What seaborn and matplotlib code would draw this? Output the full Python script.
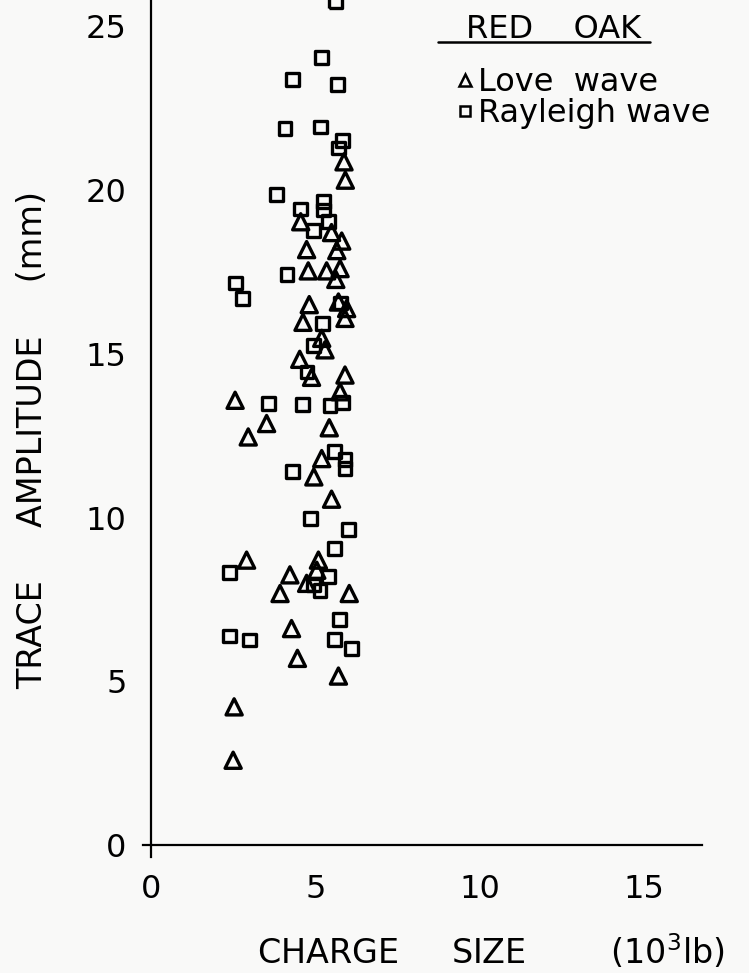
import numpy as np
import pandas as pd
import matplotlib
matplotlib.use("Agg")
import matplotlib.pyplot as plt
import seaborn as sns
from matplotlib.lines import Line2D

# ---- data ----
love_x = [5.87, 5.91, 4.55, 5.49, 5.80, 4.73, 5.65, 4.78, 5.34, 5.75, 5.62, 4.81,
          5.70, 5.95, 5.90, 4.62, 5.19, 5.29, 4.52, 4.88, 5.90, 5.75, 2.55, 3.51,
          2.95, 5.42, 5.19, 4.95, 5.49, 2.90, 5.09, 4.22, 4.73, 5.04, 3.92, 6.03,
          4.27, 4.45, 5.70, 2.52, 2.49]
love_y = [20.86, 20.30, 19.03, 18.70, 18.44, 18.18, 18.15, 17.53, 17.53, 17.60, 17.27, 16.50,
          16.58, 16.38, 16.08, 15.96, 15.47, 15.12, 14.83, 14.28, 14.35, 13.84, 13.58, 12.87,
          12.46, 12.74, 11.80, 11.24, 10.56, 8.70, 8.70, 8.25, 7.99, 8.39, 7.68, 7.68,
          6.61, 5.70, 5.16, 4.22, 2.59]

rayleigh_x = [5.62, 5.19, 4.30, 5.66, 4.07, 5.16, 5.82, 5.71, 3.80, 5.24, 5.24, 4.54,
              5.39, 4.93, 4.13, 2.57, 2.77, 5.77, 5.22, 4.93, 4.74, 3.56, 4.61, 5.44,
              5.83, 5.59, 5.90, 5.90, 4.30, 4.86, 6.00, 5.59, 2.37, 5.39, 4.93, 5.14,
              5.73, 2.39, 3.00, 5.59, 6.11]
rayleigh_y = [25.76, 24.04, 23.37, 23.22, 21.88, 21.92, 21.52, 21.28, 19.87, 19.66, 19.39, 19.42,
              19.03, 18.76, 17.42, 17.16, 16.69, 16.55, 15.93, 15.25, 14.44, 13.48, 13.46, 13.43,
              13.50, 12.01, 11.77, 11.50, 11.40, 9.97, 9.64, 9.06, 8.31, 8.19, 7.94, 7.78,
              6.89, 6.38, 6.26, 6.28, 6.00]

x_ticks = [0, 5, 10, 15]
y_ticks = [0, 5, 10, 15, 20, 25]
series_names = ["Love  wave", "Rayleigh wave"]
legend_title = "RED    OAK"
x_label = "CHARGE     SIZE        (10$^3$lb)"
y_label = "TRACE     AMPLITUDE     (mm)"

# ---- style ----
sns.set_theme(style="white")
plt.rcParams["font.family"] = ["DejaVu Sans"]
for key in ["text.color", "axes.labelcolor", "xtick.color", "ytick.color"]:
    plt.rcParams[key] = "black"
bg = "#f9f9f8"

fig = plt.figure(figsize=(7.49, 9.73), dpi=100, facecolor=bg)
ax = fig.add_axes([0.1913, 0.1197, 0.7466, 0.8803])
ax.set_facecolor(bg)

love = pd.DataFrame({"size": love_x, "amp": love_y})
ray = pd.DataFrame({"size": rayleigh_x, "amp": rayleigh_y})

sns.scatterplot(data=love, x="size", y="amp", marker="^", s=135,
                facecolor="none", edgecolor="black", linewidth=2.4,
                ax=ax, zorder=3, legend=False)
sns.scatterplot(data=ray, x="size", y="amp", marker="s", s=85,
                facecolor="none", edgecolor="black", linewidth=2.4,
                ax=ax, zorder=3, legend=False)

ax.set_xlim(-0.25, 16.8)
ax.set_ylim(-0.35, 25.8)

for side in ["top", "right"]:
    ax.spines[side].set_visible(False)
for side in ["left", "bottom"]:
    ax.spines[side].set_position(("data", 0))
    ax.spines[side].set_color("black")
    ax.spines[side].set_linewidth(1.6)
ax.spines["left"].set_bounds(-0.35, 25.8)
ax.spines["bottom"].set_bounds(-0.25, 16.8)

ax.set_xticks(x_ticks)
ax.set_yticks(y_ticks)
ax.set_xticklabels([str(t) for t in x_ticks])
ax.set_yticklabels([str(t) for t in y_ticks])
ax.tick_params(axis="both", direction="in", length=11, width=1.6,
               colors="black", labelsize=23)
ax.tick_params(axis="x", pad=21)
ax.tick_params(axis="y", pad=18)

ax.set_xlabel(x_label, fontsize=24)
ax.xaxis.set_label_coords(0.622, -0.088)
ax.set_ylabel(y_label, fontsize=24)
ax.yaxis.set_label_coords(-0.168, 0.486)

handles = [
    Line2D([], [], marker="^", linestyle="none", markersize=8, markeredgewidth=1.8,
           markerfacecolor="none", markeredgecolor="black"),
    Line2D([], [], marker="s", linestyle="none", markersize=7, markeredgewidth=1.8,
           markerfacecolor="none", markeredgecolor="black"),
]
leg = ax.legend(handles, series_names, loc="upper left",
                bbox_to_anchor=(0.561, 0.9218), frameon=False, fontsize=23,
                handlelength=0.5, handletextpad=0.15, borderpad=0.0,
                labelspacing=0.0, borderaxespad=0.0)

ax.text(0.577, 0.9556, legend_title, transform=ax.transAxes, fontsize=23,
        ha="left", va="baseline")
ax.plot([0.527, 0.906], [0.951, 0.951], transform=ax.transAxes,
        color="black", linewidth=1.8, clip_on=False)

fig.savefig("out.png", dpi=100, facecolor=bg)
